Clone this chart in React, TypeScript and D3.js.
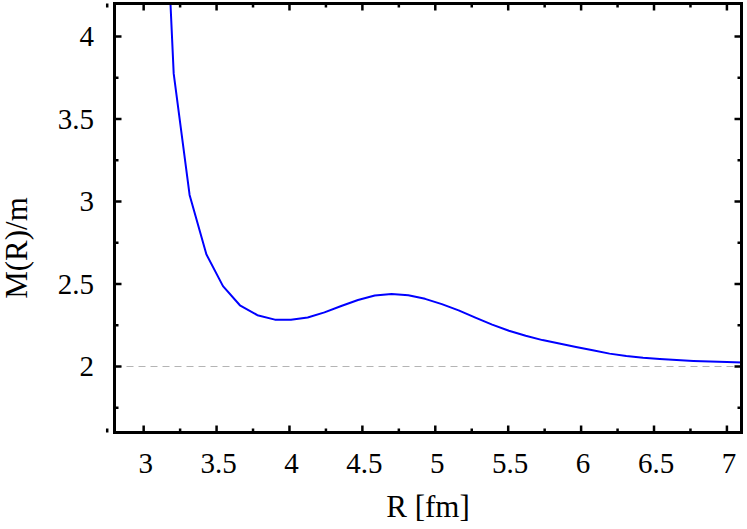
import React from "react";
import * as d3 from "d3";

const rValues = [3.09, 3.206, 3.315, 3.43, 3.544, 3.66, 3.78, 3.9, 4.01, 4.125, 4.24, 4.355, 4.47, 4.585, 4.7, 4.815, 4.93, 5.045, 5.16, 5.275, 5.39, 5.505, 5.62, 5.735, 5.85, 5.965, 6.08, 6.195, 6.31, 6.425, 6.54, 6.655, 6.77, 6.885, 7.0, 7.115];
const mValues = [6.0, 3.775, 3.04, 2.68, 2.487, 2.371, 2.311, 2.284, 2.283, 2.297, 2.328, 2.367, 2.403, 2.43, 2.44, 2.432, 2.41, 2.378, 2.34, 2.296, 2.254, 2.217, 2.186, 2.16, 2.139, 2.118, 2.098, 2.078, 2.064, 2.053, 2.045, 2.039, 2.034, 2.03, 2.027, 2.024];

const xMajorTicks = [3, 3.5, 4, 4.5, 5, 5.5, 6, 6.5, 7];
const xMinorTicks = [2.75, 3.25, 3.75, 4.25, 4.75, 5.25, 5.75, 6.25, 6.75];
const yMajorTicks = [2, 2.5, 3, 3.5, 4];
const yMinorTicks = [1.75, 2.25, 2.75, 3.25, 3.75];
const refLevel = [2];

const xLabel = "R [fm]";
const yLabel = "M(R)/m";

export default function App() {
  const W = 747, H = 529;
  const left = 114.5, right = 741.5, top = 3.5, bottom = 432.5;
  const x = d3.scaleLinear().domain([2.8, 7.1]).range([left, right]);
  const y = d3.scaleLinear().domain([1.6, 4.2]).range([bottom, top]);
  const data = rValues.map((r, i) => [r, mValues[i]] as [number, number]);
  const line = d3.line<[number, number]>().x(d => x(d[0])).y(d => y(d[1]));
  const majorLen = 7, minorLen = 4;
  const tickStyle = { fontFamily: '"Liberation Serif"', fontSize: "29px" };
  const titleStyle = { fontFamily: '"Liberation Serif"', fontSize: "31px" };
  return (
    <svg width={W} height={H} style={{ position: "absolute", left: 0, top: 0, background: "#fff" }}>
      <defs>
        <clipPath id="plotclip">
          <rect x={left} y={top} width={right - left} height={bottom - top} />
        </clipPath>
      </defs>
      {refLevel.map(v => (
        <line key={"ref" + v} x1={left} x2={right} y1={y(v)} y2={y(v)} stroke="#b4b4b4" strokeWidth={1} strokeDasharray="7,5" />
      ))}
      <path d={line(data) || ""} fill="none" stroke="#0000ff" strokeWidth={2} clipPath="url(#plotclip)" strokeLinejoin="round" />
      <g stroke="#000" strokeWidth={2.5}>
        {xMajorTicks.map(t => (
          <g key={"xm" + t}>
            <line x1={x(t)} x2={x(t)} y1={bottom} y2={bottom - majorLen} />
            <line x1={x(t)} x2={x(t)} y1={top} y2={top + majorLen} />
          </g>
        ))}
        {xMinorTicks.map(t => (
          <g key={"xn" + t}>
            <line x1={x(t)} x2={x(t)} y1={bottom} y2={bottom - minorLen} />
            <line x1={x(t)} x2={x(t)} y1={top} y2={top + minorLen} />
          </g>
        ))}
        {yMajorTicks.map(t => (
          <g key={"ym" + t}>
            <line x1={left} x2={left + majorLen} y1={y(t)} y2={y(t)} />
            <line x1={right} x2={right - majorLen} y1={y(t)} y2={y(t)} />
          </g>
        ))}
        {yMinorTicks.map(t => (
          <g key={"yn" + t}>
            <line x1={left} x2={left + minorLen} y1={y(t)} y2={y(t)} />
            <line x1={right} x2={right - minorLen} y1={y(t)} y2={y(t)} />
          </g>
        ))}
      </g>
      <rect x={left} y={top} width={right - left} height={bottom - top} fill="none" stroke="#000" strokeWidth={3} />
      <g fill="#000">
        {xMajorTicks.map(t => (
          <text key={"xl" + t} style={tickStyle} x={x(t) + 2} y={473} textAnchor="middle">{String(t)}</text>
        ))}
        {yMajorTicks.map(t => (
          <text key={"yl" + t} style={tickStyle} x={94} y={y(t) + 9.5} textAnchor="end">{String(t)}</text>
        ))}
        <text style={titleStyle} x={(left + right) / 2} y={517} textAnchor="middle">{xLabel}</text>
        <text style={titleStyle} transform={`translate(27,${248}) rotate(-90)`} textAnchor="middle">{yLabel}</text>
      </g>
    </svg>
  );
}
